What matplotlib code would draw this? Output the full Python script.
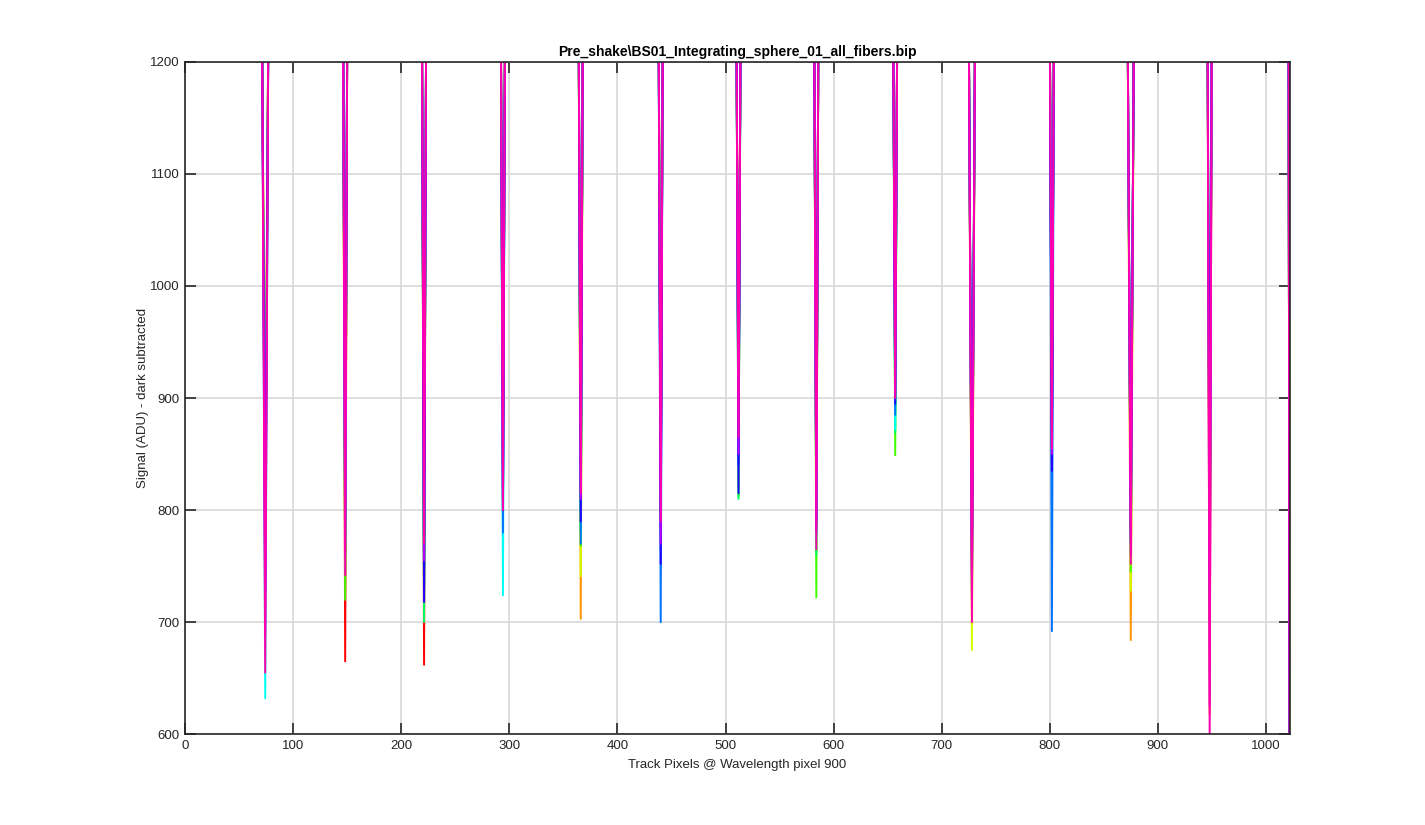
import numpy as np
import matplotlib
matplotlib.use("Agg")
import matplotlib.pyplot as plt

plt.rcParams['font.family'] = ['Liberation Sans', 'DejaVu Sans']

title = "Pre_shake\\BS01_Integrating_sphere_01_all_fibers.bip"
xlabel = "Track Pixels @ Wavelength pixel 900"
ylabel = "Signal (ADU) - dark subtracted"

# track pixel of the gap between neighbouring fibres
dip_centres = [74, 148, 221, 294, 366, 440, 512, 584, 657, 728, 802, 875, 948]
dip_halfwidth = [3, 2, 2, 2, 2, 2, 2, 2, 2, 3, 2, 3, 2]
last_pixel = 1022

# minimum signal in each gap, one row per spectrum (drawn in this order)
dip_minima = [
    [805, 665, 662, 850, 790, 820, 880, 800, 930, 760, 880, 780, 700],
    [780, 760, 740, 840, 703, 830, 870, 790, 920, 740, 870, 684, 618],
    [810, 750, 760, 830, 741, 810, 860, 780, 890, 675, 860, 728, 690],
    [770, 720, 712, 810, 768, 800, 812, 722, 849, 720, 850, 745, 700],
    [740, 745, 700, 790, 780, 790, 810, 760, 869, 730, 860, 760, 720],
    [632, 770, 745, 724, 800, 780, 850, 775, 872, 750, 845, 770, 730],
    [750, 780, 730, 780, 770, 700, 840, 785, 885, 760, 692, 780, 740],
    [728, 790, 718, 800, 790, 752, 815, 790, 895, 745, 835, 775, 760],
    [690, 760, 755, 805, 810, 770, 850, 780, 905, 720, 850, 760, 625],
    [655, 742, 770, 800, 815, 790, 865, 765, 900, 700, 855, 752, 595],
]
edge_minima = [560, 555, 570, 565, 560, 575, 580, 570, 565, 560]

plateau = 3000
shoulder = 1250

colors = plt.cm.hsv(np.arange(len(dip_minima)) / len(dip_minima))

fig = plt.figure(figsize=(14.25, 8.25), dpi=100)
ax = fig.add_axes([0.13, 0.11, 0.775, 0.815])

for row, edge, col in zip(dip_minima, edge_minima, colors):
    xs = [1]
    ys = [plateau]
    for c, hw, m in zip(dip_centres, dip_halfwidth, row):
        xs += [c - hw - 1, c - hw, c, c + hw, c + hw + 1]
        ys += [plateau, shoulder, m, shoulder, plateau]
    xs += [last_pixel - 2, last_pixel - 1, last_pixel]
    ys += [plateau, shoulder, edge]
    ax.plot(xs, ys, color=col, lw=1.4)

ax.set_xlim(0, last_pixel)
ax.set_ylim(600, 1200)
ax.set_xticks(np.arange(0, 1001, 100))
ax.set_yticks(np.arange(600, 1201, 100))
ax.grid(True, color='#d8d8d8', lw=1.2)
ax.set_axisbelow(True)
ax.tick_params(direction='in', length=8, width=1.2, color='#262626',
               top=True, right=True, labelsize=9.5, labelcolor='#262626', pad=4)
for s in ax.spines.values():
    s.set_color('#262626')
    s.set_linewidth(1.2)

ax.set_title(title, fontsize=10, fontweight='bold', color='black', pad=4)
ax.set_xlabel(xlabel, fontsize=9.5, color='#262626', labelpad=5)
ax.set_ylabel(ylabel, fontsize=9.5, color='#262626', labelpad=1)

fig.savefig("out.png", dpi=100)
